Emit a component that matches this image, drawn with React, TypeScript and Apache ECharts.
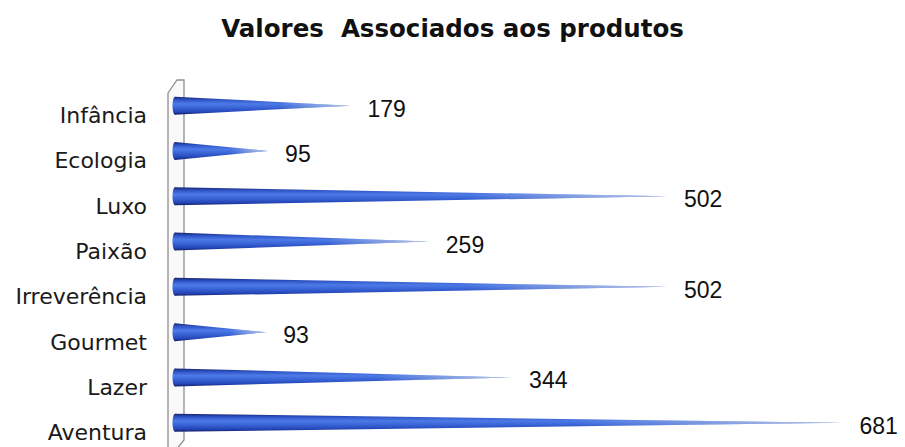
import React, { useEffect, useRef } from "react";
import * as echarts from "echarts";

const titleText = "Valores  Associados aos produtos";
const categories = ["Infância", "Ecologia", "Luxo", "Paixão", "Irreverência", "Gourmet", "Lazer", "Aventura"];
const values = [179, 95, 502, 259, 502, 93, 344, 681];

export default function App() {
  const ref = useRef<HTMLDivElement>(null);
  useEffect(() => {
    document.body.style.margin = "0";
    if (!ref.current) return;
    const chart = echarts.init(ref.current, null, { renderer: "svg" });
    const barGrad = () =>
      new echarts.graphic.LinearGradient(0, 0, 0, 1, [
        { offset: 0, color: "#17246e" },
        { offset: 0.18, color: "#2f55c8" },
        { offset: 0.4, color: "#4d7ae6" },
        { offset: 0.6, color: "#3a66d8" },
        { offset: 0.85, color: "#2446b8" },
        { offset: 1, color: "#14206a" },
      ]);
    const fadeGrad = () =>
      new echarts.graphic.LinearGradient(0, 0, 1, 0, [
        { offset: 0, color: "rgba(200,208,228,0)" },
        { offset: 0.6, color: "rgba(200,208,228,0)" },
        { offset: 1, color: "rgba(200,208,228,0.9)" },
      ]);
    const option: any = {
      animation: false,
      backgroundColor: "#ffffff",
      title: {
        text: titleText,
        left: "center",
        top: 11,
        textStyle: { fontFamily: "DejaVu Sans", fontWeight: "bold", fontSize: 24.5, color: "#111" },
      },
      grid: { left: 175, right: 44, top: 83, bottom: 1.6, containLabel: false },
      xAxis: { type: "value", min: 0, max: 700, show: false },
      yAxis: {
        type: "category",
        data: categories,
        inverse: true,
        axisLine: { show: false },
        axisTick: { show: false },
        splitLine: { show: false },
        axisLabel: {
          fontFamily: "DejaVu Sans",
          fontSize: 22,
          color: "#1a1a1a",
          margin: 28,
          verticalAlign: "top",
          lineHeight: 20,
        },
      },
      graphic: [
        {
          type: "polygon",
          z: 0,
          shape: {
            points: [
              [168, 93],
              [177, 80],
              [184, 80],
              [184, 440],
              [176, 450],
              [168, 450],
            ],
          },
          style: { fill: "#f9f9f9", stroke: "#8f8f8f", lineWidth: 1.3 },
        },
      ],
      series: [
        {
          type: "custom",
          z: 5,
          data: values.map((v, i) => [v, i]),
          encode: { x: 0, y: 1 },
          renderItem: (params: any, api: any) => {
            const v = api.value(0);
            const c = api.value(1);
            const p0 = api.coord([0, c]);
            const p1 = api.coord([v, c]);
            const h = 9;
            return {
              type: "group",
              children: [
                {
                  type: "ellipse",
                  shape: { cx: p0[0], cy: p0[1], rx: 2.5, ry: h },
                  style: { fill: barGrad() },
                },
                {
                  type: "polygon",
                  shape: { points: [[p0[0], p0[1] - h], [p1[0], p1[1]], [p0[0], p0[1] + h]] },
                  style: { fill: barGrad() },
                },
                {
                  type: "polygon",
                  shape: { points: [[p0[0], p0[1] - h], [p1[0], p1[1]], [p0[0], p0[1] + h]] },
                  style: { fill: fadeGrad() },
                },
                {
                  type: "text",
                  x: p1[0] + 17,
                  y: p1[1] + 3,
                  style: {
                    text: String(v),
                    fontFamily: "Liberation Sans",
                    fontSize: 23,
                    fill: "#111",
                    verticalAlign: "middle",
                    align: "left",
                  },
                },
              ],
            };
          },
        },
      ],
    };
    chart.setOption(option);
    return () => chart.dispose();
  }, []);
  return <div ref={ref} style={{ width: 905, height: 447 }} />;
}
